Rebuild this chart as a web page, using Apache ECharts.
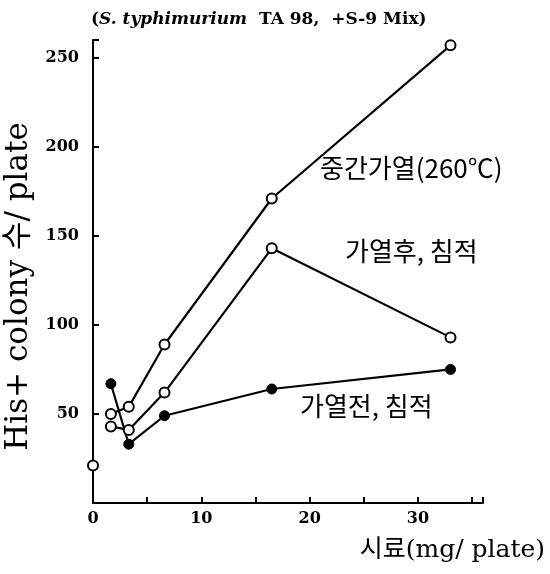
<!DOCTYPE html>
<html>
<head>
<meta charset="utf-8">
<script src="https://cdn.jsdelivr.net/npm/echarts@6/dist/echarts.min.js"></script>
<style>
  html, body { margin: 0; padding: 0; background: #fff; }
  #main { width: 550px; height: 574px; }
</style>
</head>
<body>
<div id="main"></div>
<script>
// doses (mg/plate)
var doses = [1.65, 3.3, 6.6, 16.5, 33];
// 중간가열(260℃)
var midHeat = [50, 54, 89, 171, 257];
// 가열후, 침적
var afterHeat = [43, 41, 62, 143, 93];
// 가열전, 침적
var beforeHeat = [67, 33, 49, 64, 75];
// control (0 mg)
var control = [[0, 21]];

var labels = ['중간가열(260℃)', '가열후, 침적', '가열전, 침적'];

function pairs(ys) {
    return doses.map(function (d, i) { return [d, ys[i]]; });
}

var chart = echarts.init(document.getElementById('main'));

var lineStyle = { color: '#000', width: 2.2 };
var openItem = { color: '#fff', borderColor: '#000', borderWidth: 2, opacity: 1 };
var fillItem = { color: '#000', borderColor: '#000', borderWidth: 1, opacity: 1 };
var korFont = '"Noto Sans CJK KR", sans-serif';

var option = {
    animation: false,
    backgroundColor: '#fff',
    title: {
        text: '{p|(}{i|S. typhimurium}{b|  TA 98,  +S-9 Mix)}',
        left: 86,
        top: 6,
        textStyle: {
            rich: {
                p: { fontFamily: 'DejaVu Serif', fontSize: 17, fontWeight: 'bold', color: '#000' },
                i: { fontFamily: 'DejaVu Serif', fontSize: 17, fontStyle: 'italic', fontWeight: 'bold', color: '#000' },
                b: { fontFamily: 'DejaVu Serif', fontSize: 17, fontWeight: 'bold', color: '#000' }
            }
        }
    },
    grid: { left: 93, right: 67, top: 40, bottom: 71, containLabel: false, outerBoundsMode: 'none' },
    xAxis: {
        type: 'value',
        min: 0,
        max: 36,
        interval: 5,
        splitLine: { show: false },
        axisLine: { lineStyle: { color: '#000', width: 2 } },
        axisTick: { inside: true, length: 6, lineStyle: { color: '#000', width: 2 } },
        axisLabel: {
            color: '#000',
            fontFamily: 'DejaVu Serif',
            fontWeight: 'bold',
            fontSize: 16,
            margin: 8,
            formatter: function (v) { return v % 10 === 0 && v <= 30 ? String(v) : ''; }
        },
        name: '시료(mg/ plate)',
        nameLocation: 'end',
        nameGap: 0,
        nameTextStyle: {
            fontFamily: '"DejaVu Serif", "Noto Sans CJK KR", serif',
            fontSize: 25,
            color: '#000',
            align: 'right',
            verticalAlign: 'top',
            padding: [35, -62, 0, 0]
        }
    },
    yAxis: {
        type: 'value',
        min: 0,
        max: 260,
        interval: 50,
        splitLine: { show: false },
        axisLine: { lineStyle: { color: '#000', width: 2 } },
        axisTick: { inside: true, length: 6, lineStyle: { color: '#000', width: 2 } },
        axisLabel: {
            color: '#000',
            fontFamily: 'DejaVu Serif',
            fontWeight: 'bold',
            fontSize: 16,
            margin: 14,
            formatter: function (v) { return v > 0 && v % 50 === 0 ? String(v) : ''; }
        },
        name: 'His+ colony 수/ plate',
        nameLocation: 'middle',
        nameGap: 58,
        nameTextStyle: {
            fontFamily: '"DejaVu Serif", "Noto Sans CJK KR", serif',
            fontSize: 31,
            color: '#000',
            padding: [0, 30, 0, 0]
        }
    },
    series: [
        {
            name: labels[0], type: 'line', data: pairs(midHeat),
            symbol: 'circle', symbolSize: 10,
            lineStyle: lineStyle, itemStyle: openItem, z: 3
        },
        {
            name: labels[1], type: 'line', data: pairs(afterHeat),
            symbol: 'circle', symbolSize: 10,
            lineStyle: lineStyle, itemStyle: openItem, z: 3
        },
        {
            name: labels[2], type: 'line', data: pairs(beforeHeat),
            symbol: 'circle', symbolSize: 10,
            lineStyle: lineStyle, itemStyle: fillItem, z: 2
        },
        {
            name: 'control', type: 'scatter', data: control,
            symbol: 'circle', symbolSize: 10,
            itemStyle: openItem, z: 4
        }
    ],
    graphic: [
        { type: 'text', left: 320, top: 155, style: { text: labels[0], font: '26px ' + korFont, fill: '#000' } },
        { type: 'text', left: 345, top: 238, style: { text: labels[1], font: '26px ' + korFont, fill: '#000' } },
        { type: 'text', left: 300, top: 393, style: { text: labels[2], font: '26px ' + korFont, fill: '#000' } }
    ]
};

chart.setOption(option);
</script>
</body>
</html>
